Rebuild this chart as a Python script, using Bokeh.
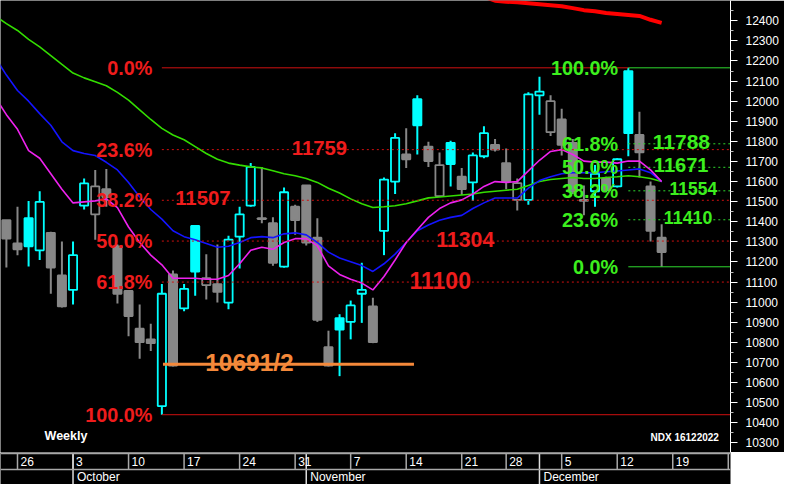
from bokeh.plotting import figure
from bokeh.models import Range1d, FixedTicker, Span, ColumnDataSource
from bokeh.layouts import column
from bokeh.embed import file_html
from bokeh.resources import INLINE
from bokeh.core.properties import value

FONT = value("Liberation Sans")

# ---------------- data: NDX daily, Sep 23 .. Dec 16 2022 (trading-day index 0..59)
opens = [11408, 11292, 11418, 11258, 11345, 11133, 11061, 11480, 11437, 11562,
         11278, 11056, 10868, 10815, 10483, 11138, 10969, 11379, 11085, 11090,
         10998, 11326, 11480, 11418, 11393, 11177, 11475, 11581, 11321, 10776,
         10921, 10902, 11042, 10979, 11355, 11600, 11735, 12010, 11774, 11528,
         11793, 11624, 11596, 11726, 11783, 11692, 11509, 11509, 12029, 11846,
         11909, 11793, 11509, 11552, 11615, 11576, 12150, 11832, 11576, 11321]
highs = [11408, 11475, 11504, 11552, 11350, 11302, 11302, 11615, 11658, 11663,
         11287, 11056, 10989, 10892, 11090, 11157, 11090, 11384, 11239, 11287,
         11331, 11475, 11692, 11673, 11422, 11571, 11485, 11581, 11417, 10858,
         10940, 11008, 11196, 11022, 11620, 11841, 11865, 12029, 11798, 11745,
         11803, 11668, 11745, 11875, 11812, 11764, 11615, 12044, 12121, 12029,
         11962, 11812, 11581, 11682, 11624, 11716, 12166, 11947, 11600, 11388]
lows = [11172, 11234, 11177, 11210, 11042, 10974, 10989, 11461, 11311, 11475,
        10993, 10830, 10719, 10757, 10440, 10680, 10955, 11032, 11013, 10998,
        10965, 11167, 11475, 11393, 11181, 11172, 11335, 11282, 10902, 10680,
        10632, 10815, 10897, 10796, 11234, 11538, 11668, 11735, 11673, 11528,
        11576, 11533, 11504, 11716, 11750, 11562, 11456, 11485, 11933, 11827,
        11730, 11538, 11432, 11475, 11547, 11571, 11726, 11620, 11302, 11176]
closes = [11316, 11263, 11278, 11499, 11172, 10979, 11234, 11591, 11576, 11523,
          11042, 10931, 10801, 10796, 11042, 10685, 11066, 11152, 11119, 11051,
          11311, 11437, 11673, 11413, 11196, 11547, 11408, 11297, 10912, 10685,
          10863, 10984, 11061, 10801, 11610, 11817, 11711, 11880, 11702, 11682,
          11687, 11562, 11730, 11841, 11759, 11600, 11592, 12034, 12048, 12000,
          11783, 11552, 11504, 11639, 11557, 11711, 11841, 11745, 11355, 11249]

# moving averages, index -1..59
ma_green = [12424, 12386, 12352, 12308, 12270, 12227, 12183, 12140, 12116, 12097, 12077,
            12044, 12005, 11957, 11909, 11865, 11832, 11808, 11774, 11740, 11711,
            11692, 11682, 11673, 11668, 11654, 11639, 11629, 11615, 11596, 11567,
            11543, 11514, 11490, 11471, 11475, 11480, 11490, 11504, 11519, 11523,
            11528, 11533, 11538, 11547, 11552, 11557, 11562, 11581, 11600, 11610,
            11615, 11620, 11615, 11615, 11620, 11624, 11629, 11624, 11615, 11600]
ma_blue = [12217, 12130, 12053, 12000, 11938, 11880, 11798, 11754, 11740, 11730, 11696,
           11658, 11595, 11523, 11461, 11413, 11355, 11326, 11311, 11292, 11273,
           11278, 11297, 11321, 11326, 11321, 11340, 11345, 11335, 11297, 11249,
           11220, 11201, 11182, 11153, 11191, 11239, 11297, 11355, 11384, 11408,
           11422, 11432, 11466, 11494, 11518, 11518, 11518, 11567, 11605, 11624,
           11639, 11644, 11644, 11644, 11649, 11653, 11658, 11663, 11644, 11600]
ma_magenta = [12019, 11933, 11860, 11754, 11716, 11639, 11562, 11494, 11499, 11504, 11514,
              11470, 11374, 11297, 11234, 11186, 11119, 11119, 11119, 11114, 11114,
              11133, 11191, 11258, 11273, 11263, 11297, 11316, 11316, 11280, 11181,
              11138, 11114, 11095, 11061, 11128, 11210, 11297, 11360, 11422, 11466,
              11494, 11509, 11538, 11576, 11600, 11596, 11600, 11653, 11706, 11750,
              11759, 11735, 11702, 11697, 11697, 11692, 11702, 11702, 11658, 11600]
ma_red_idx = list(range(40, 60))
ma_red = [12545, 12538, 12530, 12520, 12500, 12495, 12492, 12487, 12482, 12477,
          12472, 12463, 12453, 12448, 12439, 12434, 12429, 12424, 12405, 12390]

# Fibonacci retracements
red_anchor = 14      # swing low candle (Oct 13)
red_levels = [12166, 11759, 11507, 11304, 11100, 10440]
red_pcts = ["0.0%", "23.6%", "38.2%", "50.0%", "61.8%", "100.0%"]
green_anchor = 56    # swing high candle (Dec 13)
green_levels = [12166, 11788, 11671, 11554, 11410, 11176]
green_pcts = ["100.0%", "61.8%", "50.0%", "38.2%", "23.6%", "0.0%"]
support_level = 10691
support_text = "10691/2"
support_span = [14.1, 36.7]

# x axis
tick_idx = [1, 6, 11, 16, 21, 26, 31, 36, 41, 45, 50, 55, 60, 65]
tick_labels = ["26", "3", "10", "17", "24", "31", "7", "14", "21", "28", "5", "12", "19", "26"]
month_idx = [6, 27, 48]
month_labels = ["October", "November", "December"]
y_ticks = [10300, 10400, 10500, 10600, 10700, 10800, 10900, 11000, 11100, 11200, 11300,
           11400, 11500, 11600, 11700, 11800, 11900, 12000, 12100, 12200, 12300, 12400]

# ---------------- styles
CYAN, GRAY = "#00ffff", "#878787"
RED_T, RED_L = "#ee1c1c", "#d01010"
GREEN_T, GREEN_L = "#3cef1e", "#2ed82e"
ORANGE = "#f5893a"

n = len(closes)
idx = list(range(n))
ma_idx = list(range(-1, n))
cols, fills, tops, bots = [], [], [], []
for i in range(n):
    up = i > 0 and closes[i] > closes[i - 1]
    c = CYAN if up else GRAY
    cols.append(c)
    fills.append("black" if closes[i] > opens[i] else c)
    tops.append(max(opens[i], closes[i]))
    bots.append(min(opens[i], closes[i]))
src = ColumnDataSource(dict(x=idx, o=opens, h=highs, l=lows, c=closes,
                            top=tops, bot=bots, col=cols, fill=fills))

xr = Range1d(-0.53, 65.2)
yr = Range1d(10252, 12501)

p = figure(width=784, height=452, x_range=xr, y_range=yr, output_backend="svg",
           toolbar_location=None, x_axis_location=None, y_axis_location="right",
           min_border_left=0, min_border_top=0, min_border_bottom=0, min_border_right=54,
           background_fill_color="black", border_fill_color="black", outline_line_color=None)
p.grid.visible = False
ax = p.yaxis[0]
ax.ticker = FixedTicker(ticks=y_ticks, minor_ticks=[t + 50 for t in y_ticks] + [10250])
ax.axis_line_color = "white"
ax.major_tick_line_color = "white"
ax.minor_tick_line_color = "#bbbbbb"
ax.major_tick_in = 0
ax.major_tick_out = 7
ax.minor_tick_in = 0
ax.minor_tick_out = 3
ax.major_label_standoff = 8
ax.major_label_text_color = "white"
ax.major_label_text_font = "Liberation Sans"
ax.major_label_text_font_size = "12px"

# candles
p.segment(x0="x", y0="l", x1="x", y1="h", line_color="col", line_width=2, source=src)
p.vbar(x="x", width=0.74, top="top", bottom="bot", fill_color="fill",
       line_color="col", line_width=1.8, source=src)

# moving averages
p.line(ma_idx, ma_green, line_color="#33dd00", line_width=1.6)
p.line(ma_idx, ma_blue, line_color="#1414ff", line_width=1.6)
p.line(ma_idx, ma_magenta, line_color="#ee22ee", line_width=1.6)
p.line(ma_red_idx, ma_red, line_color="#ff0000", line_width=4)

# red fib lines
right_end = xr.end
p.segment(x0=[red_anchor, red_anchor], x1=[green_anchor, right_end],
          y0=[red_levels[0], red_levels[-1]], y1=[red_levels[0], red_levels[-1]],
          line_color=RED_L, line_width=1)
mid_r = red_levels[1:-1]
p.segment(x0=[red_anchor] * len(mid_r), x1=[right_end] * len(mid_r), y0=mid_r, y1=mid_r,
          line_color=RED_L, line_width=1, line_dash="2 3")
# green fib lines
p.segment(x0=[green_anchor] * 2, x1=[right_end] * 2,
          y0=[green_levels[0], green_levels[-1]], y1=[green_levels[0], green_levels[-1]],
          line_color=GREEN_L, line_width=1)
mid_g = green_levels[1:-1]
p.segment(x0=[green_anchor] * len(mid_g), x1=[right_end] * len(mid_g), y0=mid_g, y1=mid_g,
          line_color=GREEN_L, line_width=1, line_dash="2 3")
# support line
p.line(support_span, [support_level, support_level], line_color=ORANGE, line_width=3)


def label(fig, x, y, txt, color, size, align="left", baseline="middle", xo=0, yo=0, style="bold"):
    fig.text(x=[x], y=[y], text=[txt], text_color=color, text_font=FONT,
             text_font_style=style, text_font_size=value(f"{size}px"),
             text_align=align, text_baseline=baseline, x_offset=xo, y_offset=yo)


for lv, t in zip(red_levels, red_pcts):
    label(p, 13.15, lv, t, RED_T, 19.8, align="right")
for lv, t in zip(green_levels, green_pcts):
    label(p, 55.07, lv, t, GREEN_T, 19.8, align="right")

red_val_x = [25.7, 15.2, 38.7, 36.3]
red_val_size = [20.3, 20.3, 21.3, 23]
for lv, x, s in zip(red_levels[1:-1], red_val_x, red_val_size):
    label(p, x, lv, str(lv), RED_T, s, baseline="alphabetic", yo=-2)
green_val_x = [58.2, 58.3, 59.7, 59.2]
green_val_size = [21, 20, 17.5, 17.8]
for lv, x, s in zip(green_levels[1:-1], green_val_x, green_val_size):
    label(p, x, lv, str(lv), GREEN_T, s, baseline="alphabetic", yo=-2)

label(p, 17.9, support_level, support_text, ORANGE, 24.5, baseline="alphabetic", yo=-2)
label(p, 3.44, 10333, "Weekly", "white", 12.5)
label(p, 58.0, 10329, "NDX 16122022", "white", 10)

# ---------------- date strip
s = figure(width=784, height=32, x_range=xr, y_range=Range1d(0, 32), output_backend="svg",
           toolbar_location=None, x_axis_location=None, y_axis_location=None,
           min_border_left=0, min_border_top=0, min_border_bottom=0, min_border_right=54,
           background_fill_color="black", border_fill_color="white", outline_line_color=None)
s.grid.visible = False
SEP = "#a8a8a8"
s.add_layout(Span(location=31, dimension="width", line_color=SEP, line_width=1.5))
s.add_layout(Span(location=15, dimension="width", line_color=SEP, line_width=1.5))
s.segment(x0=tick_idx, x1=tick_idx, y0=[15] * len(tick_idx), y1=[31] * len(tick_idx),
          line_color=SEP, line_width=1.5)
s.segment(x0=month_idx, x1=month_idx, y0=[0] * len(month_idx), y1=[31] * len(month_idx),
          line_color="#dddddd", line_width=1.5)
s.text(x=tick_idx, y=[23] * len(tick_idx), text=tick_labels, text_color="white",
       text_font=FONT, text_font_size=value("12px"), text_align="left",
       text_baseline="middle", x_offset=3)
s.text(x=month_idx, y=[8] * len(month_idx), text=month_labels, text_color="white",
       text_font=FONT, text_font_size=value("12px"), text_align="left",
       text_baseline="middle", x_offset=4)

layout = column(p, s, spacing=0)
open("out.html", "w").write(file_html(layout, INLINE))
